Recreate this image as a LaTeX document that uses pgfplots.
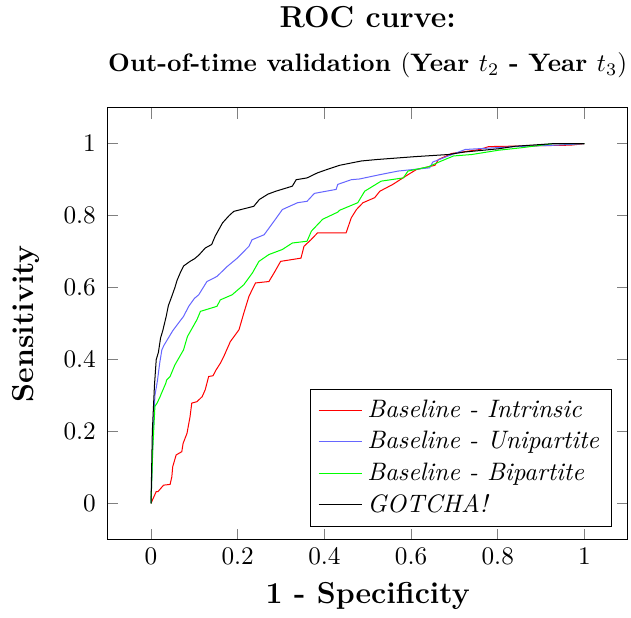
\documentclass[border=0pt]{standalone}
\usepackage{pgfplots}
\pgfplotsset{compat=1.18}
\begin{document}
\begin{tikzpicture}
\begin{axis}[
  scale only axis,
  width=206pt, height=171pt,
  enlargelimits=0.1,
  xtick={0,0.2,0.4,0.6,0.8,1},
  ytick={0,0.2,0.4,0.6,0.8,1},
  xlabel={\large\bfseries 1 - Specificity},
  ylabel={\large\bfseries Sensitivity},
  yticklabel style={inner xsep=4.5pt},
  ylabel style={inner ysep=4.85pt},
  title style={align=center, inner xsep=1.5pt, inner ysep=2.4pt, yshift=3.3pt},
  title={{\large\bfseries ROC curve:}\\[5.5pt]{\bfseries Out-of-time validation $($Year $t_2$ - Year $t_3)$}},
  legend pos=south east,
  legend style={font=\itshape},
  legend cell align=left,
]
\addplot[red, mark=none] coordinates {
(0,0) (0.003,0.009) (0.012,0.033) (0.016,0.033) (0.029,0.051) (0.044,0.053) (0.048,0.074) (0.05,0.102) (0.058,0.135) (0.071,0.144) (0.074,0.167) (0.083,0.195) (0.09,0.241) (0.094,0.279) (0.106,0.283) (0.118,0.297) (0.125,0.316) (0.133,0.353) (0.143,0.355) (0.15,0.371) (0.16,0.39) (0.168,0.409) (0.183,0.45) (0.203,0.483) (0.214,0.529) (0.226,0.576) (0.241,0.613) (0.272,0.617) (0.284,0.641) (0.299,0.673) (0.346,0.682) (0.353,0.715) (0.369,0.733) (0.384,0.752) (0.45,0.752) (0.462,0.794) (0.474,0.817) (0.489,0.836) (0.516,0.85) (0.528,0.868) (0.558,0.887) (0.593,0.914) (0.612,0.928) (0.655,0.94) (0.663,0.956) (0.694,0.973) (0.759,0.984) (0.779,0.992) (0.968,0.996) (1,1)
};
\addlegendentry{Baseline - Intrinsic}
\addplot[blue!60, mark=none] coordinates {
(0,0) (0.005,0.2) (0.009,0.3) (0.015,0.343) (0.02,0.39) (0.025,0.427) (0.03,0.44) (0.04,0.46) (0.05,0.48) (0.063,0.501) (0.075,0.52) (0.087,0.548) (0.1,0.57) (0.11,0.58) (0.129,0.617) (0.152,0.631) (0.176,0.659) (0.199,0.682) (0.226,0.715) (0.233,0.733) (0.261,0.747) (0.284,0.785) (0.303,0.817) (0.338,0.836) (0.36,0.84) (0.377,0.862) (0.427,0.873) (0.431,0.887) (0.462,0.90) (0.481,0.902) (0.528,0.914) (0.57,0.924) (0.643,0.933) (0.65,0.949) (0.686,0.966) (0.725,0.984) (0.84,0.992) (0.934,0.996) (1,1)
};
\addlegendentry{Baseline - Unipartite}
\addplot[green, mark=none] coordinates {
(0,0) (0.004,0.15) (0.009,0.27) (0.014,0.279) (0.021,0.297) (0.024,0.306) (0.034,0.334) (0.036,0.343) (0.044,0.353) (0.055,0.385) (0.075,0.427) (0.084,0.464) (0.106,0.511) (0.114,0.534) (0.152,0.548) (0.16,0.566) (0.187,0.58) (0.214,0.608) (0.234,0.641) (0.249,0.673) (0.272,0.692) (0.303,0.706) (0.326,0.724) (0.36,0.729) (0.37,0.757) (0.392,0.785) (0.396,0.79) (0.431,0.81) (0.435,0.815) (0.477,0.836) (0.493,0.868) (0.531,0.896) (0.582,0.905) (0.593,0.924) (0.64,0.936) (0.67,0.952) (0.698,0.966) (0.74,0.97) (0.802,0.982) (0.856,0.989) (0.926,1.0) (1,1)
};
\addlegendentry{Baseline - Bipartite}
\addplot[black, mark=none] coordinates {
(0,0) (0.003,0.2) (0.008,0.33) (0.012,0.40) (0.017,0.42) (0.022,0.46) (0.027,0.48) (0.035,0.52) (0.04,0.55) (0.048,0.576) (0.055,0.6) (0.06,0.62) (0.067,0.64) (0.075,0.66) (0.09,0.673) (0.1,0.68) (0.11,0.69) (0.125,0.71) (0.14,0.72) (0.148,0.743) (0.165,0.78) (0.18,0.80) (0.191,0.812) (0.237,0.826) (0.25,0.845) (0.27,0.86) (0.288,0.868) (0.326,0.882) (0.335,0.9) (0.36,0.905) (0.384,0.919) (0.41,0.93) (0.435,0.94) (0.485,0.952) (0.52,0.956) (0.608,0.964) (0.686,0.97) (0.724,0.977) (0.802,0.986) (0.84,0.993) (0.926,1.0) (1,1)
};
\addlegendentry{GOTCHA!}
\end{axis}
\end{tikzpicture}
\end{document}
